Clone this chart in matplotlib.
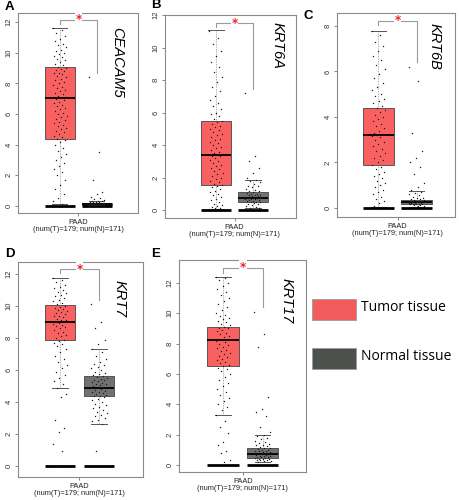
import numpy as np
import matplotlib
matplotlib.use("Agg")
import matplotlib.pyplot as plt
from matplotlib.patches import Rectangle

# ---------------- data ----------------
GENES = ["CEACAM5", "KRT6A", "KRT6B", "KRT7", "KRT17"]
PANEL_LETTERS = ["A", "B", "C", "D", "E"]
XLABEL = "PAAD\n(num(T)=179; num(N)=171)"
LEGEND_LABELS = ["Tumor tissue", "Normal tissue"]

# box stats: [whisker_low, q1, median, q3, whisker_high]
T_BOX = [
    [0.15, 4.4, 7.05, 9.05, 11.6],
    [0.05, 1.55, 3.4, 5.5, 11.05],
    [0.05, 1.9, 3.2, 4.4, 7.8],
    [4.85, 7.85, 9.0, 10.05, 11.75],
    [3.3, 6.5, 8.2, 9.1, 12.4],
]
N_BOX = [
    [0.01, 0.05, 0.1, 0.2, 0.35],
    [0.1, 0.5, 0.75, 1.1, 1.85],
    [0.02, 0.15, 0.25, 0.35, 0.75],
    [2.65, 4.35, 4.9, 5.6, 7.3],
    [0.2, 0.45, 0.75, 1.1, 2.0],
]

A_T_PTS = [11.6, 11.5, 11.3, 11.1, 10.9, 10.8, 10.6, 10.5, 10.4, 10.2, 10.1, 10.0, 9.9, 9.8, 9.7, 9.6,
           9.5, 9.4, 9.3, 9.2, 9.1, 9.0, 8.95, 8.9, 8.8, 8.7, 8.65, 8.6, 8.5, 8.4, 8.3, 8.2, 8.1, 8.0,
           7.9, 7.8, 7.7, 7.6, 7.5, 7.4, 7.3, 7.2, 7.1, 7.05, 7.0, 6.9, 6.8, 6.7, 6.6, 6.5, 6.4, 6.3,
           6.2, 6.1, 6.0, 5.9, 5.8, 5.7, 5.6, 5.5, 5.4, 5.3, 5.2, 5.1, 5.0, 4.9, 4.8, 4.7, 4.6, 4.5,
           4.4, 4.3, 4.2, 4.0, 3.8, 3.6, 3.4, 3.2, 3.0, 2.8, 2.6, 2.4, 2.2, 2.0, 1.7, 1.4, 1.1, 0.8,
           0.5, 0.3, 0.15]
A_N_PTS = [8.4, 3.5, 1.7, 0.9, 0.8, 0.6, 0.5, 0.45, 0.4, 0.35, 0.32, 0.3, 0.28, 0.26, 0.25, 0.24,
           0.22, 0.2, 0.2, 0.19, 0.18, 0.17, 0.16, 0.15, 0.15, 0.14, 0.13, 0.12, 0.12, 0.11, 0.1, 0.1,
           0.09, 0.08, 0.08, 0.07, 0.06, 0.05, 0.05, 0.04, 0.03, 0.02, 0.01]
B_T_PTS = [11.0, 10.6, 10.2, 9.8, 9.5, 9.1, 8.8, 8.5, 8.2, 7.9, 7.6, 7.3, 7.0, 6.8, 6.6, 6.4, 6.2,
           6.0, 5.9, 5.8, 5.6, 5.5, 5.4, 5.3, 5.2, 5.1, 5.0, 4.9, 4.8, 4.7, 4.6, 4.5, 4.4, 4.3, 4.2,
           4.1, 4.0, 3.9, 3.8, 3.7, 3.6, 3.5, 3.45, 3.4, 3.35, 3.3, 3.2, 3.1, 3.0, 2.9, 2.8, 2.7, 2.6,
           2.5, 2.4, 2.3, 2.2, 2.1, 2.0, 1.9, 1.8, 1.7, 1.6, 1.55, 1.5, 1.4, 1.3, 1.2, 1.1, 1.0, 0.9,
           0.8, 0.7, 0.6, 0.5, 0.4, 0.3, 0.25, 0.2, 0.15, 0.1, 0.05]
B_N_PTS = [7.2, 3.3, 3.0, 2.6, 2.3, 2.0, 1.85, 1.8, 1.7, 1.6, 1.5, 1.45, 1.4, 1.3, 1.25, 1.2, 1.15,
           1.1, 1.05, 1.0, 0.98, 0.95, 0.92, 0.9, 0.88, 0.85, 0.82, 0.8, 0.78, 0.76, 0.75, 0.74, 0.72,
           0.7, 0.68, 0.65, 0.62, 0.6, 0.58, 0.55, 0.52, 0.5, 0.48, 0.45, 0.4, 0.35, 0.3, 0.25, 0.2,
           0.15, 0.1]
C_T_PTS = [7.8, 7.6, 7.3, 7.1, 6.9, 6.7, 6.5, 6.3, 6.1, 5.9, 5.7, 5.5, 5.3, 5.2, 5.0, 4.9, 4.8, 4.7,
           4.6, 4.5, 4.4, 4.3, 4.2, 4.1, 4.0, 3.9, 3.8, 3.7, 3.6, 3.5, 3.4, 3.3, 3.25, 3.2, 3.15, 3.1,
           3.0, 2.9, 2.8, 2.7, 2.6, 2.5, 2.4, 2.3, 2.2, 2.1, 2.0, 1.9, 1.8, 1.7, 1.6, 1.5, 1.4, 1.3,
           1.2, 1.1, 1.0, 0.9, 0.8, 0.7, 0.6, 0.5, 0.4, 0.3, 0.2, 0.1, 0.05]
C_N_PTS = [6.2, 5.6, 3.3, 2.5, 2.2, 2.0, 1.8, 1.5, 1.1, 0.9, 0.8, 0.7, 0.65, 0.6, 0.55, 0.5, 0.45,
           0.42, 0.4, 0.38, 0.36, 0.34, 0.32, 0.3, 0.29, 0.28, 0.27, 0.26, 0.25, 0.25, 0.24, 0.23,
           0.22, 0.21, 0.2, 0.19, 0.18, 0.17, 0.16, 0.15, 0.14, 0.12, 0.1, 0.08, 0.06, 0.04, 0.02]
D_T_PTS = [11.75, 11.6, 11.5, 11.3, 11.2, 11.1, 11.0, 10.9, 10.8, 10.7, 10.6, 10.5, 10.4, 10.3, 10.2,
           10.1, 10.0, 9.95, 9.9, 9.8, 9.75, 9.7, 9.6, 9.55, 9.5, 9.4, 9.35, 9.3, 9.2, 9.15, 9.1,
           9.05, 9.0, 8.95, 8.9, 8.8, 8.75, 8.7, 8.6, 8.5, 8.4, 8.3, 8.2, 8.1, 8.0, 7.9, 7.8, 7.7,
           7.6, 7.5, 7.3, 7.1, 6.9, 6.7, 6.5, 6.3, 6.1, 5.9, 5.7, 5.5, 5.3, 5.1, 4.9, 4.5, 4.3, 2.9,
           2.4, 2.1, 1.4, 0.95, 0.0]
D_N_PTS = [10.1, 9.0, 8.6, 7.9, 7.6, 7.3, 7.1, 6.9, 6.7, 6.5, 6.4, 6.3, 6.2, 6.1, 6.0, 5.9, 5.8,
           5.75, 5.7, 5.6, 5.55, 5.5, 5.45, 5.4, 5.35, 5.3, 5.25, 5.2, 5.15, 5.1, 5.05, 5.0, 4.95,
           4.9, 4.85, 4.8, 4.75, 4.7, 4.65, 4.6, 4.55, 4.5, 4.45, 4.4, 4.35, 4.3, 4.2, 4.1, 4.0, 3.9,
           3.8, 3.7, 3.6, 3.5, 3.4, 3.3, 3.2, 3.1, 3.0, 2.9, 2.8, 2.65, 0.95]
E_T_PTS = [12.4, 12.3, 12.2, 12.0, 11.8, 11.6, 11.4, 11.2, 11.0, 10.8, 10.6, 10.4, 10.2, 10.0, 9.9,
           9.8, 9.7, 9.6, 9.5, 9.4, 9.3, 9.2, 9.1, 9.05, 9.0, 8.9, 8.8, 8.7, 8.6, 8.5, 8.4, 8.3, 8.25,
           8.2, 8.15, 8.1, 8.0, 7.9, 7.8, 7.7, 7.6, 7.5, 7.4, 7.3, 7.2, 7.1, 7.0, 6.9, 6.8, 6.7, 6.6,
           6.5, 6.4, 6.3, 6.2, 6.0, 5.8, 5.6, 5.4, 5.2, 5.0, 4.8, 4.6, 4.4, 4.2, 4.0, 3.8, 3.6, 3.3,
           2.9, 2.5, 2.1, 1.5, 1.3, 0.9, 0.8, 0.3, 0.2]
E_N_PTS = [10.1, 8.6, 7.8, 4.5, 3.7, 3.5, 3.2, 2.5, 2.2, 2.0, 1.9, 1.8, 1.7, 1.6, 1.5, 1.45, 1.4,
           1.35, 1.3, 1.25, 1.2, 1.15, 1.1, 1.05, 1.0, 0.98, 0.95, 0.92, 0.9, 0.88, 0.85, 0.82, 0.8,
           0.78, 0.76, 0.75, 0.74, 0.72, 0.7, 0.68, 0.65, 0.62, 0.6, 0.58, 0.55, 0.52, 0.5, 0.48,
           0.45, 0.42, 0.4, 0.38, 0.35, 0.32, 0.3, 0.28, 0.25, 0.2]

T_PTS = [A_T_PTS, B_T_PTS, C_T_PTS, D_T_PTS, E_T_PTS]
N_PTS = [A_N_PTS, B_N_PTS, C_N_PTS, D_N_PTS, E_N_PTS]

# significance bracket: [top, left-leg bottom, right-leg bottom]
BRACKET_TOP = [12.15, 11.5, 8.22, 12.3, 13.0]
BRACKET_LEFT = [11.85, 11.25, 8.05, 12.05, 12.65]
BRACKET_RIGHT = [8.7, 7.45, 6.4, 10.4, 10.4]
Y_TICKS = [[0, 2, 4, 6, 8, 10, 12], [0, 2, 4, 6, 8, 10, 12], [0, 2, 4, 6, 8],
           [0, 2, 4, 6, 8, 10, 12], [0, 2, 4, 6, 8, 10, 12]]

# ---------------- layout / style ----------------
W, H = 459, 500
# axes rectangles in pixels: left, top, right, bottom
AX_PX = [(18, 13, 138, 213), (165, 15, 296, 218), (337, 13, 455, 217),
         (18, 262, 143, 477), (179, 260, 306, 472)]
YLIMS = [(-0.46, 12.6), (-0.49, 12.0), (-0.4, 8.57), (-0.69, 12.75), (-0.46, 13.5)]
XLIMS = [(-0.135, 3.11), (-0.378, 3.16), (-0.09, 3.01), (-0.077, 3.13), (-0.114, 3.10)]
BOXW = [0.81, 0.83, 0.82, 0.78, 0.79]
GENE_POS = [(0.825, 0.93), (0.86, 0.965), (0.83, 0.95), (0.816, 0.916), (0.85, 0.915)]
LETTER_PX = [(5, 7), (151, 4.5), (304, 16), (5, 254), (151, 254)]

TUMOR_C = "#F8615F"
NORMAL_C = "#717171"
LEG_TUMOR = "#F25C5C"
LEG_NORMAL = "#4D514D"
FRAME_C = "#8a8a8a"
FONT = "Liberation Sans"

fig = plt.figure(figsize=(W / 100, H / 100), dpi=100)


def jitter(n, spread):
    idx = np.arange(n)
    return ((idx * 0.6180339887) % 1.0 - 0.5) * spread


for k in range(5):
    l, t, r, b = AX_PX[k]
    ax = fig.add_axes([l / W, 1 - b / H, (r - l) / W, (b - t) / H])
    stats = []
    for vals, lab in [(T_BOX[k], "T"), (N_BOX[k], "N")]:
        stats.append(dict(whislo=vals[0], q1=vals[1], med=vals[2], q3=vals[3],
                          whishi=vals[4], fliers=[], label=lab))
    w = BOXW[k]
    bp = ax.bxp(stats, positions=[1, 2], widths=w, patch_artist=True, showfliers=False,
                capwidths=w * 0.5,
                boxprops=dict(linewidth=0.6, edgecolor="#444444"),
                medianprops=dict(color="black", linewidth=1.3),
                whiskerprops=dict(color="#666666", linewidth=0.4, linestyle=(0, (1.5, 1.5))),
                capprops=dict(color="#555555", linewidth=0.7))
    bp["boxes"][0].set_facecolor(TUMOR_C)
    bp["boxes"][1].set_facecolor(NORMAL_C)
    for box in bp["boxes"]:
        box.set_zorder(2)
    # thick baseline at zero
    ax.hlines([0, 0], [1 - w / 2, 2 - w / 2], [1 + w / 2, 2 + w / 2],
              colors="black", linewidth=2.0, zorder=3)
    # jittered points
    tp = np.array(T_PTS[k])
    npnt = np.array(N_PTS[k])
    ax.scatter(1 + jitter(len(tp), 0.36), tp, s=1.0, c="#1a1a1a", linewidths=0, zorder=4)
    ax.scatter(2 + jitter(len(npnt), 0.42), npnt, s=1.0, c="#1a1a1a", linewidths=0, zorder=4)
    # significance bracket
    ax.plot([1, 1, 2, 2], [BRACKET_LEFT[k], BRACKET_TOP[k], BRACKET_TOP[k], BRACKET_RIGHT[k]],
            color="#9a9a9a", linewidth=0.8, zorder=5, clip_on=False)
    ax.text(1.5, BRACKET_TOP[k], "*", color="#E8252B", fontsize=8.5, ha="center", va="center",
            fontweight="bold", zorder=6,
            bbox=dict(facecolor="white", edgecolor="none", pad=0.6))
    ax.set_xlim(*XLIMS[k])
    ax.set_ylim(*YLIMS[k])
    ax.set_yticks(Y_TICKS[k])
    ax.set_yticklabels([str(v) for v in Y_TICKS[k]], rotation=90, va="center",
                       fontsize=5.5, family=FONT, color="#333333")
    ax.set_xticks([1.5])
    ax.set_xticklabels([XLABEL], fontsize=5.3, family=FONT, color="#222222", linespacing=1.1)
    ax.tick_params(axis="both", length=2, width=0.5, color="#555555", pad=2)
    for sp in ax.spines.values():
        sp.set_color(FRAME_C)
        sp.set_linewidth(0.8)
    gx, gy = GENE_POS[k]
    ax.text(gx, gy, GENES[k], transform=ax.transAxes, rotation=-90, ha="center", va="top",
            fontsize=10.5, style="italic", family=FONT, color="black")
    lx, ly = LETTER_PX[k]
    fig.text(lx / W, 1 - ly / H, PANEL_LETTERS[k], fontsize=9.5, fontweight="bold",
             family=FONT, ha="left", va="center")

# legend
leg_rects = [(312, 299, 356, 320, LEG_TUMOR), (312, 348, 356, 369, LEG_NORMAL)]
for (x0, y0, x1, y1, col), lab in zip(leg_rects, LEGEND_LABELS):
    fig.add_artist(Rectangle((x0 / W, 1 - y1 / H), (x1 - x0) / W, (y1 - y0) / H,
                             transform=fig.transFigure, facecolor=col,
                             edgecolor="#9a9a9a", linewidth=0.6))
    fig.text(361 / W, 1 - ((y0 + y1) / 2 - 2) / H, lab, fontsize=10, family="Open Sans",
             ha="left", va="center", color="black")

fig.savefig("out.png", dpi=100)
